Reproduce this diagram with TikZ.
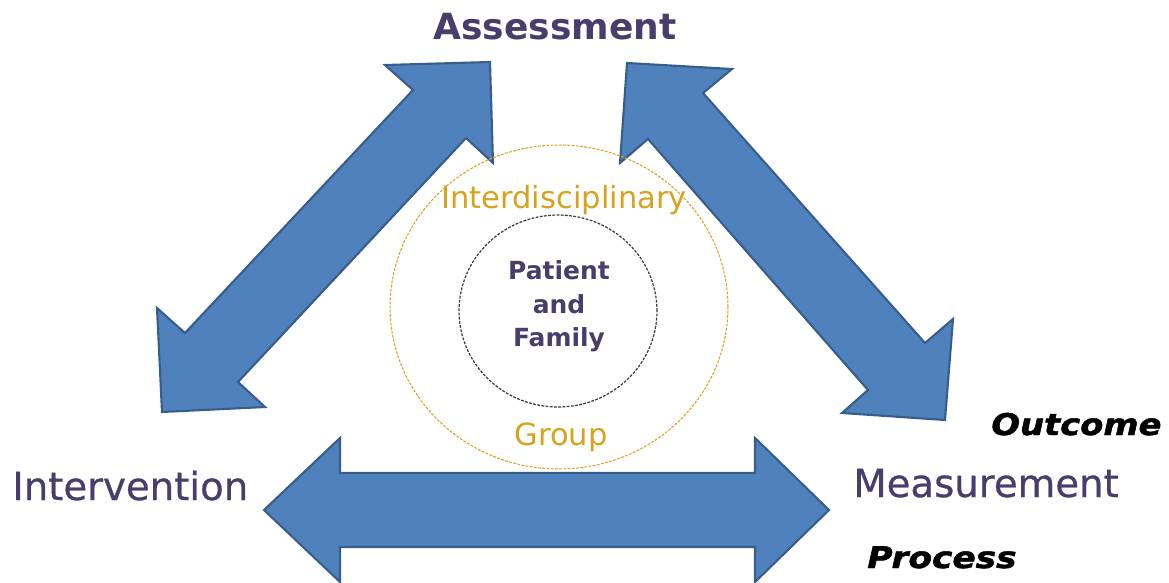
\documentclass[tikz,border=0pt]{standalone}
\usepackage{fontspec}
\setmainfont{DejaVu Sans}
\definecolor{arrowblue}{RGB}{79,129,189}
\definecolor{arrowedge}{RGB}{56,93,138}
\definecolor{purp}{RGB}{73,61,108}
\definecolor{goldtxt}{RGB}{214,163,30}
\definecolor{ringgray}{RGB}{60,60,60}
\begin{document}
\begin{tikzpicture}[x=0.02cm,y=-0.02cm,
  blockarrow/.style={fill=arrowblue,draw=arrowedge,line width=1.2pt,line join=miter},
  headlbl/.style={inner sep=0pt,text=purp,font=\fontsize{22}{26}\selectfont\addfontfeature{FakeBold=0.7}},
  toplbl/.style={inner sep=0pt,text=purp,font=\bfseries\fontsize{20.5}{24}\selectfont},
  goldlbl/.style={inner sep=0pt,text=goldtxt,font=\fontsize{17.4}{20}\selectfont},
  corelbl/.style={inner sep=0pt,text=purp,font=\bfseries\fontsize{14.2}{17}\selectfont},
  typelbl/.style={inner sep=0pt,text=black,font=\bfseries\itshape\fontsize{17}{20}\selectfont\addfontfeature{FakeBold=1.5}},
  outerring/.style={draw=goldtxt,line width=0.6pt,dash pattern=on 1.6pt off 0.8pt},
  innerring/.style={draw=ringgray,line width=0.7pt,dash pattern=on 1.6pt off 0.8pt}]
\useasboundingbox (0,0) rectangle (1169,582);

% left diagonal double arrow (Assessment <-> Intervention)
\draw[blockarrow] (490,62) -- (493,163) -- (466,138) -- (238,382) -- (265,407)
  -- (162,412) -- (157,308) -- (185,333) -- (413,90) -- (385,65) -- cycle;

% right diagonal double arrow (Assessment <-> Measurement)
\draw[blockarrow] (627,63) -- (732,69) -- (703,93) -- (925,343) -- (953,319)
  -- (945,420) -- (842,413) -- (868,390) -- (648,139) -- (620,163) -- cycle;

% bottom horizontal double arrow (Intervention <-> Measurement)
\draw[blockarrow] (264,510) -- (340,438) -- (340,473) -- (755,473) -- (755,438)
  -- (829,510) -- (755,582) -- (755,547) -- (340,547) -- (340,582) -- cycle;

% rings
\draw[outerring] (559,307) ellipse [x radius=3.38cm, y radius=3.24cm];
\draw[innerring] (558,311) ellipse [x radius=1.98cm, y radius=1.92cm];

% labels
\node[toplbl, anchor=base] (assess) at (555,39) {Assessment};
\node[headlbl, anchor=base west] (interv) at (12,500) {Intervention};
\node[headlbl, anchor=base west] (meas) at (853,497) {Measurement};

\node[goldlbl, anchor=base] (interd) at (564,208) {Interdisciplinary};
\node[goldlbl, anchor=base] (group) at (561,445) {Group};

\node[corelbl, anchor=base] (patient) at (559,279) {Patient};
\node[corelbl, anchor=base] (and) at (559,313) {and};
\node[corelbl, anchor=base] (family) at (559,346) {Family};

\node[typelbl, anchor=base west] (outcome) at (991,435) {\scalebox{1.13}[1]{Outcome}};
\node[typelbl, anchor=base west] (process) at (867,568) {\scalebox{1.15}[1]{Process}};
\end{tikzpicture}
\end{document}
